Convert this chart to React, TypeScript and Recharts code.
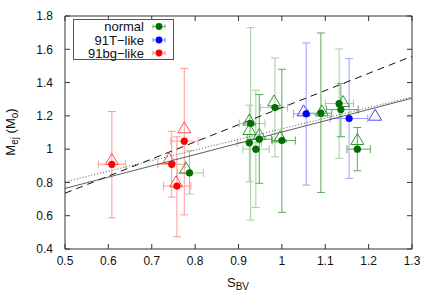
import React from 'react';
import { ScatterChart, Scatter, XAxis, YAxis, ErrorBar, Legend, Label } from 'recharts';

const xTicks = [0.5, 0.6, 0.7, 0.8, 0.9, 1, 1.1, 1.2, 1.3];
const yTicks = [0.4, 0.6, 0.8, 1, 1.2, 1.4, 1.6, 1.8];
const legendLabels = ['normal', '91T\u2212like', '91bg\u2212like'];

// normal, lighter error bars
const normalAX = [0.787, 0.928, 0.925, 0.94, 0.984, 1.132];
const normalAY = [0.857, 1.154, 1.038, 1.0, 1.25, 1.274];
const normalAXLo = [0.759, 0.902, 0.897, 0.91, 0.951, 1.1];
const normalAXHi = [0.819, 0.961, 0.953, 0.971, 1.013, 1.165];
const normalAYLo = [0.73, 0.574, 0.804, 0.65, 0.954, 0.945];
const normalAYHi = [0.99, 1.73, 1.264, 1.354, 1.548, 1.602];

// normal, darker error bars
const normalBX = [0.948, 1.0, 1.09, 1.136, 1.174];
const normalBY = [1.06, 1.052, 1.216, 1.238, 1.0];
const normalBXLo = [0.92, 0.978, 1.06, 1.103, 1.15];
const normalBXHi = [0.976, 1.031, 1.115, 1.176, 1.204];
const normalBYLo = [0.795, 0.62, 0.74, 1.075, 0.87];
const normalBYHi = [1.328, 1.48, 1.698, 1.395, 1.13];

// 91T-like
const blueX = [1.056, 1.155];
const blueY = [1.212, 1.184];
const blueXLo = [1.027, 1.111];
const blueXHi = [1.092, 1.198];
const blueYLo = [0.784, 0.824];
const blueYHi = [1.638, 1.544];

// 91bg-like
const redX = [0.608, 0.746, 0.758, 0.775];
const redY = [0.909, 0.909, 0.778, 1.048];
const redXLo = [0.577, 0.714, 0.727, 0.744];
const redXHi = [0.639, 0.777, 0.79, 0.807];
const redYLo = [0.588, 0.712, 0.474, 0.605];
const redYHi = [1.226, 1.107, 1.074, 1.485];

// open triangles
const triRedX = [0.608, 0.74, 0.756, 0.775];
const triRedY = [0.938, 0.944, 0.804, 1.128];
const triGreenX = [0.779, 0.925, 0.925, 0.948, 0.982, 0.996, 1.092, 1.141, 1.174];
const triGreenY = [0.886, 1.175, 1.118, 1.089, 1.29, 1.074, 1.23, 1.286, 1.058];
const triBlueX = [1.05, 1.215];
const triBlueY = [1.23, 1.204];

// fit lines
const lineX = [0.5, 1.3];
const dashedY = [0.735, 1.558];
const solidY = [0.764, 1.306];
const dottedY = [0.804, 1.313];

const GREEN = '#006f00';
const BLUE = '#0000ff';
const RED = '#ff0000';
const FONT = '"Liberation Sans", Arial, Helvetica, sans-serif';

type Pt = { x: number; y: number; ex?: number[]; ey?: number[] };

const mk = (xs: number[], ys: number[], xlo: number[], xhi: number[], ylo: number[], yhi: number[]): Pt[] =>
  xs.map((x, i) => ({
    x,
    y: ys[i],
    ex: [x - xlo[i], xhi[i] - x],
    ey: [ys[i] - ylo[i], yhi[i] - ys[i]],
  }));

const pts = (xs: number[], ys: number[]): Pt[] => xs.map((x, i) => ({ x, y: ys[i] }));

const normalA = mk(normalAX, normalAY, normalAXLo, normalAXHi, normalAYLo, normalAYHi);
const normalB = mk(normalBX, normalBY, normalBXLo, normalBXHi, normalBYLo, normalBYHi);
const blue = mk(blueX, blueY, blueXLo, blueXHi, blueYLo, blueYHi);
const red = mk(redX, redY, redXLo, redXHi, redYLo, redYHi);
const triRed = pts(triRedX, triRedY);
const triGreen = pts(triGreenX, triGreenY);
const triBlue = pts(triBlueX, triBlueY);
const dashed = pts(lineX, dashedY);
const solid = pts(lineX, solidY);
const dotted = pts(lineX, dottedY);

const dot = (color: string) => (p: any) => <circle cx={p.cx} cy={p.cy} r={3.6} fill={color} />;
const tri = (color: string) => (p: any) => {
  const { cx, cy } = p;
  const w = 6.5;
  const h = 5;
  return (
    <polygon
      points={`${cx - w},${cy + h} ${cx + w},${cy + h} ${cx},${cy - h - 1}`}
      fill="none"
      stroke={color}
      strokeWidth={1}
    />
  );
};
const none = () => <g />;

const LegendBox = () => {
  const colors = [GREEN, BLUE, RED];
  const light = ['#66aa66', '#7f7fff', '#ff7f7f'];
  const rows = [7.5, 21, 34];
  return (
    <svg width={102} height={42} style={{ display: 'block', overflow: 'visible' }}>
      <rect x={0.5} y={0.5} width={100} height={40} fill="#fff" stroke="#555" strokeWidth={1} />
      {legendLabels.map((t, i) => (
        <g key={t}>
          <text x={71} y={rows[i]} dy="0.36em" textAnchor="end" fontFamily={FONT} fontSize={13} fill="#111">
            {t}
          </text>
          <line x1={80} x2={92} y1={rows[i]} y2={rows[i]} stroke={light[i]} strokeWidth={1} />
          <line x1={80} x2={80} y1={rows[i] - 2} y2={rows[i] + 2} stroke={light[i]} strokeWidth={1} />
          <line x1={92} x2={92} y1={rows[i] - 2} y2={rows[i] + 2} stroke={light[i]} strokeWidth={1} />
          <circle cx={86} cy={rows[i]} r={3.4} fill={colors[i]} />
        </g>
      ))}
    </svg>
  );
};

const XTitle = () => (
  <text x={238} y={287} textAnchor="middle" fontFamily={FONT} fontSize={13} fill="#111">
    S
    <tspan fontSize={10} dy={3}>BV</tspan>
  </text>
);

const YTitle = () => (
  <text
    x={0}
    y={0}
    transform="translate(15,132) rotate(-90)"
    textAnchor="middle"
    fontFamily={FONT}
    fontSize={13}
    fill="#111"
  >
    M
    <tspan fontSize={10} dy={3}>ej</tspan>
    <tspan dy={-3}> (M</tspan>
    <tspan fontSize={10} dy={3}>o</tspan>
    <tspan dy={-3}>)</tspan>
  </text>
);

const tickStyle = { fontFamily: FONT, fontSize: 12, fill: '#111' };
const AXIS = '#333';

export default function App() {
  return (
    <div style={{ position: 'absolute', left: 0, top: 0, width: 436, height: 305, background: '#fff' }}>
      <ScatterChart width={436} height={305} margin={{ top: 6, right: 14, bottom: 26, left: 25 }}>
        <XAxis
          xAxisId={0}
          type="number"
          dataKey="x"
          domain={[0.5, 1.3]}
          ticks={xTicks}
          allowDataOverflow
          height={30}
          tickSize={-5}
          tickMargin={12}
          tick={tickStyle}
          stroke={AXIS}
          axisLine={{ stroke: AXIS }}
          tickLine={{ stroke: AXIS }}
        >
          <Label content={XTitle} />
        </XAxis>
        <XAxis
          xAxisId="top"
          orientation="top"
          type="number"
          dataKey="x"
          domain={[0.5, 1.3]}
          ticks={xTicks}
          allowDataOverflow
          height={10}
          tickSize={-5}
          tickFormatter={() => ''}
          axisLine={{ stroke: AXIS }}
          tickLine={{ stroke: AXIS }}
        />
        <YAxis
          yAxisId={0}
          type="number"
          dataKey="y"
          domain={[0.4, 1.8]}
          ticks={yTicks}
          allowDataOverflow
          width={40}
          tickSize={-5}
          tickMargin={17}
          tick={tickStyle}
          axisLine={{ stroke: AXIS }}
          tickLine={{ stroke: AXIS }}
        >
          <Label content={YTitle} />
        </YAxis>
        <YAxis
          yAxisId="right"
          orientation="right"
          type="number"
          dataKey="y"
          domain={[0.4, 1.8]}
          ticks={yTicks}
          allowDataOverflow
          width={10}
          tickSize={-5}
          tickFormatter={() => ''}
          axisLine={{ stroke: AXIS }}
          tickLine={{ stroke: AXIS }}
        />

        <Scatter data={dashed} line={{ stroke: '#111', strokeWidth: 1, strokeDasharray: '7 5' }} shape={none} isAnimationActive={false} />
        <Scatter data={solid} line={{ stroke: '#333', strokeWidth: 0.8 }} shape={none} isAnimationActive={false} />
        <Scatter data={dotted} line={{ stroke: '#555', strokeWidth: 1, strokeDasharray: '1 2' }} shape={none} isAnimationActive={false} />

        <Scatter data={triRed} shape={tri('#ff5050')} isAnimationActive={false} />
        <Scatter data={triGreen} shape={tri('#339933')} isAnimationActive={false} />
        <Scatter data={triBlue} shape={tri('#4444ff')} isAnimationActive={false} />

        <Scatter name="normal" data={normalA} shape={dot(GREEN)} isAnimationActive={false}>
          <ErrorBar dataKey="ey" direction="y" width={4} stroke="#a3d0a3" strokeWidth={1} />
          <ErrorBar dataKey="ex" direction="x" width={4} stroke="#a3d0a3" strokeWidth={1} />
        </Scatter>
        <Scatter name="normal2" data={normalB} shape={dot(GREEN)} isAnimationActive={false}>
          <ErrorBar dataKey="ey" direction="y" width={4} stroke="#5fa85f" strokeWidth={1} />
          <ErrorBar dataKey="ex" direction="x" width={4} stroke="#5fa85f" strokeWidth={1} />
        </Scatter>
        <Scatter name="91T-like" data={blue} shape={dot(BLUE)} isAnimationActive={false}>
          <ErrorBar dataKey="ey" direction="y" width={4} stroke="#9f9fff" strokeWidth={1} />
          <ErrorBar dataKey="ex" direction="x" width={4} stroke="#9f9fff" strokeWidth={1} />
        </Scatter>
        <Scatter name="91bg-like" data={red} shape={dot(RED)} isAnimationActive={false}>
          <ErrorBar dataKey="ey" direction="y" width={4} stroke="#ff9999" strokeWidth={1} />
          <ErrorBar dataKey="ex" direction="x" width={4} stroke="#ff9999" strokeWidth={1} />
        </Scatter>

        <Legend
          layout="horizontal"
          verticalAlign="middle"
          align="center"
          content={LegendBox}
          wrapperStyle={{ position: 'absolute', left: 73, top: 19, width: 102, height: 42, margin: 0, padding: 0 }}
        />
      </ScatterChart>
    </div>
  );
}
